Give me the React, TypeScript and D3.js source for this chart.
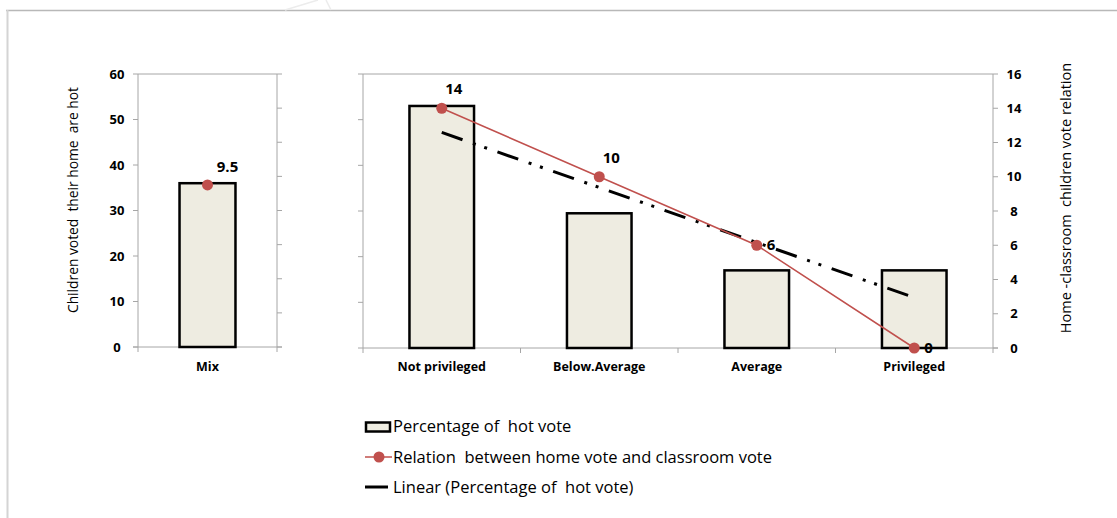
import React from "react";
import * as d3 from "d3";

const mixCategory = ["Mix"];
const mixPercent = [36];
const mixRelation = [9.5];
const mixRelationLabels = ["9.5"];

const categories = ["Not privileged", "Below.Average", "Average", "Privileged"];
const hotVotePercent = [53, 29.5, 17, 17];
const relation = [14, 10, 6, 0];
const relationLabels = ["14", "10", "6", "0"];

const leftTicks = [0, 10, 20, 30, 40, 50, 60];
const rightTicks = [0, 2, 4, 6, 8, 10, 12, 14, 16];

const legendItems = [
  "Percentage of  hot vote",
  "Relation  between home vote and classroom vote",
  "Linear (Percentage of  hot vote)",
];

const FONT = "'Open Sans', 'Liberation Sans', sans-serif";
const BAR_FILL = "#eeece1";
const RED = "#c0504d";
const AXIS = "#a6a6a6";

export default function App() {
  const W = 1117;
  const H = 518;
  const top = 74;
  const bottom = 348;

  // left panel
  const xMix = d3.scaleBand().domain(mixCategory).range([138, 277]).paddingInner(0.426).paddingOuter(0.426);
  const yL = d3.scaleLinear().domain([0, 60]).range([bottom - 1, top]);
  const yLR = d3.scaleLinear().domain([0, 16]).range([bottom - 1, top]);

  // main panel
  const x = d3.scaleBand().domain(categories).range([363, 993]).paddingInner(0.59).paddingOuter(0.295);
  const y = d3.scaleLinear().domain([0, 60]).range([bottom, top]);
  const yR = d3.scaleLinear().domain([0, 16]).range([bottom, top]);

  // linear trend of bar values
  const idx = hotVotePercent.map((_, i) => i + 1);
  const mx = d3.mean(idx)!;
  const my = d3.mean(hotVotePercent)!;
  const slope =
    d3.sum(idx.map((v, i) => (v - mx) * (hotVotePercent[i] - my))) /
    d3.sum(idx.map((v) => (v - mx) ** 2));
  const icpt = my - slope * mx;
  const cx = (c: string) => x(c)! + x.bandwidth() / 2;
  const trend = d3.line<number>()(
    [1, categories.length].map((i) => [cx(categories[i - 1]), y(icpt + slope * i)] as [number, number])
  );
  const relLine = d3
    .line<number>()
    .x((_, i) => cx(categories[i]))
    .y((d) => yR(d))(relation);

  const boundaries = d3.range(categories.length + 1).map((i) => 363 + (i * 630) / categories.length);

  return (
    <svg width={W} height={H} style={{ display: "block", position: "absolute", left: 0, top: 0 }} fontFamily={FONT}>
      <rect x={0} y={0} width={W} height={H} fill="#fff" />
      {/* frame */}
      <line x1={6} x2={W} y1={10.5} y2={10.5} stroke="#b8b8b8" strokeWidth={1.5} />
      <line x1={7.5} x2={7.5} y1={10} y2={H} stroke="#d4d4d4" strokeWidth={2} />
      <path d="M285,10 L318,0 M326,0 L331,10" stroke="#ececec" strokeWidth={1.5} fill="none" />

      {/* ===== Left panel ===== */}
      <line x1={138} x2={277} y1={yL(60)} y2={yL(60)} stroke={AXIS} />
      <line x1={138} x2={138} y1={yL(60)} y2={yL(0)} stroke={AXIS} />
      <line x1={277} x2={277} y1={yL(60)} y2={yL(0)} stroke={AXIS} />
      <line x1={133} x2={282} y1={yL(0)} y2={yL(0)} stroke={AXIS} />
      {leftTicks.map((t) => (
        <g key={"lt" + t}>
          <line x1={133} x2={138} y1={yL(t)} y2={yL(t)} stroke={AXIS} />
          <text x={117} y={yL(t) + 4.5} textAnchor="middle" fontSize={13} fontWeight="bold" fill="#000">
            {t}
          </text>
        </g>
      ))}
      {rightTicks.map((t) => (
        <line key={"lrt" + t} x1={277} x2={282} y1={yLR(t)} y2={yLR(t)} stroke={AXIS} />
      ))}
      <line x1={138} x2={138} y1={yL(0)} y2={yL(0) + 5} stroke={AXIS} />
      <line x1={277} x2={277} y1={yL(0)} y2={yL(0) + 5} stroke={AXIS} />
      {mixCategory.map((c, i) => (
        <g key={c}>
          <rect
            x={xMix(c)!}
            y={yL(mixPercent[i])}
            width={xMix.bandwidth()}
            height={yL(0) - yL(mixPercent[i])}
            fill={BAR_FILL}
            stroke="#000"
            strokeWidth={2.5}
          />
          <circle cx={xMix(c)! + xMix.bandwidth() / 2} cy={yLR(mixRelation[i])} r={5.5} fill={RED} />
          <text
            x={xMix(c)! + xMix.bandwidth() / 2 + 20}
            y={yLR(mixRelation[i]) - 13}
            textAnchor="middle"
            fontSize={15}
            fontWeight="bold"
          >
            {mixRelationLabels[i]}
          </text>
          <text x={xMix(c)! + xMix.bandwidth() / 2} y={371} textAnchor="middle" fontSize={12.5} fontWeight="bold">
            {c}
          </text>
        </g>
      ))}
      <text
        transform={`translate(78,${200}) rotate(-90)`}
        textAnchor="middle"
        fontSize={13.8}
        style={{ whiteSpace: "pre" }}
      >
        Children voted  their home  are hot
      </text>

      {/* ===== Main panel ===== */}
      <line x1={363} x2={993} y1={y(60)} y2={y(60)} stroke={AXIS} />
      <line x1={363} x2={363} y1={y(60)} y2={y(0)} stroke={AXIS} />
      <line x1={993} x2={993} y1={y(60)} y2={y(0)} stroke={AXIS} />
      <line x1={363} x2={998} y1={y(0)} y2={y(0)} stroke={AXIS} />
      {leftTicks.map((t) => (
        <line key={"mt" + t} x1={358} x2={363} y1={y(t)} y2={y(t)} stroke={AXIS} />
      ))}
      {rightTicks.map((t) => (
        <g key={"mrt" + t}>
          <line x1={993} x2={998} y1={yR(t)} y2={yR(t)} stroke={AXIS} />
          <text x={1014} y={yR(t) + 4.5} textAnchor="middle" fontSize={13} fontWeight="bold">
            {t}
          </text>
        </g>
      ))}
      {boundaries.map((b, i) => (
        <line key={"b" + i} x1={b} x2={b} y1={y(0)} y2={y(0) + 5} stroke={AXIS} />
      ))}
      {categories.map((c, i) => (
        <g key={c}>
          <rect
            x={x(c)!}
            y={y(hotVotePercent[i])}
            width={x.bandwidth()}
            height={y(0) - y(hotVotePercent[i])}
            fill={BAR_FILL}
            stroke="#000"
            strokeWidth={2.5}
          />
          <text x={cx(c)} y={371} textAnchor="middle" fontSize={12.5} fontWeight="bold">
            {c}
          </text>
        </g>
      ))}
      <path d={trend!} stroke="#000" strokeWidth={3} fill="none" strokeDasharray="22,11,3,9,3,11" />
      <path d={relLine!} stroke={RED} strokeWidth={1.5} fill="none" />
      {relation.map((v, i) => (
        <g key={"r" + i}>
          <circle cx={cx(categories[i])} cy={yR(v)} r={5.5} fill={RED} />
          <text
            x={i < 2 ? cx(categories[i]) + 12 : cx(categories[i]) + 10}
            y={i < 2 ? yR(v) - 14 : yR(v) + 5}
            textAnchor={i < 2 ? "middle" : "start"}
            fontSize={15}
            fontWeight="bold"
          >
            {relationLabels[i]}
          </text>
        </g>
      ))}
      <text
        transform={`translate(1071,${198}) rotate(-90)`}
        textAnchor="middle"
        fontSize={14.5}
        style={{ whiteSpace: "pre" }}
      >
        Home -classroom  children vote relation
      </text>

      {/* ===== Legend ===== */}
      <g>
        <rect x={366} y={422.5} width={24} height={9} fill={BAR_FILL} stroke="#000" strokeWidth={2.5} />
        <text x={393} y={432} fontSize={16.5} style={{ whiteSpace: "pre" }}>
          {legendItems[0]}
        </text>
        <line x1={365} x2={392} y1={457} y2={457} stroke={RED} strokeWidth={1.5} />
        <circle cx={379} cy={457} r={5.5} fill={RED} />
        <text x={393} y={463} fontSize={16.5} style={{ whiteSpace: "pre" }}>
          {legendItems[1]}
        </text>
        <line x1={365} x2={388} y1={487} y2={487} stroke="#000" strokeWidth={3} />
        <text x={393} y={493} fontSize={16.5} style={{ whiteSpace: "pre" }}>
          {legendItems[2]}
        </text>
      </g>
    </svg>
  );
}
